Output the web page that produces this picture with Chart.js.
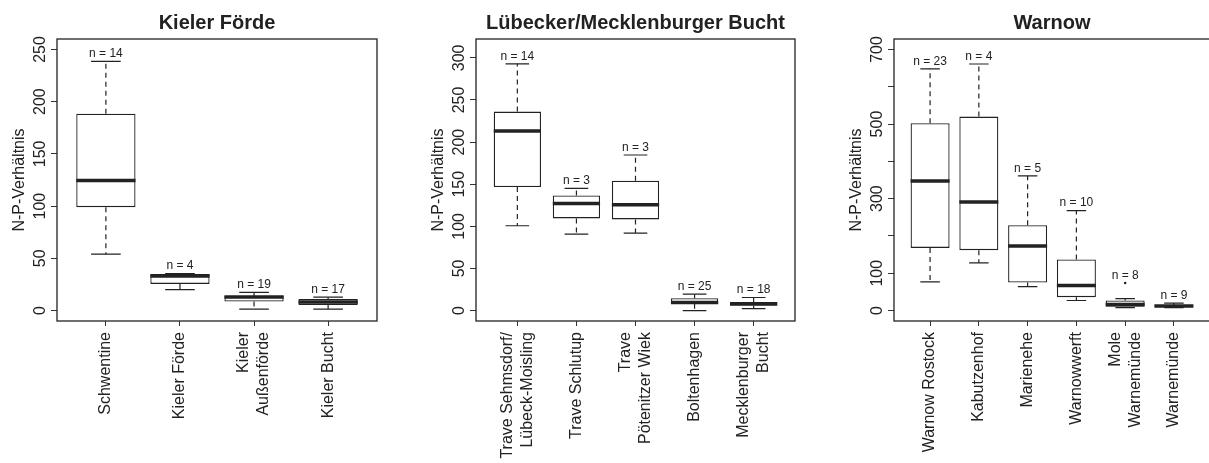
<!DOCTYPE html>
<html>
<head>
<meta charset="utf-8">
<script src="https://cdn.jsdelivr.net/npm/chart.js@4.4.1/dist/chart.umd.min.js"></script>
<style>
  html, body { margin: 0; padding: 0; background: #fff; width: 1209px; height: 463px; overflow: hidden; position: relative; }
  canvas { position: absolute; top: 0; }
</style>
</head>
<body>
<canvas id="kiel" width="387" height="463" style="left:0px"></canvas>
<canvas id="luebeck" width="387" height="463" style="left:419px"></canvas>
<canvas id="warnow" width="387" height="463" style="left:837px"></canvas>
<script>
// Kieler Förde
const kielCats = [['Schwentine'], ['Kieler Förde'], ['Kieler', 'Außenförde'], ['Kieler Bucht']];
const kielN = [14, 4, 19, 17];
const kielLow = [54, 20, 1.3, 1.3];
const kielQ1 = [99, 25.5, 8.6, 5.4];
const kielMed = [124.5, 33, 13, 8.3];
const kielQ3 = [188.5, 35, 14, 11];
const kielHigh = [238.5, 35.5, 17.5, 12.8];
const kielOut = [[], [], [], []];
const kielYTicks = [0, 50, 100, 150, 200, 250];
const kielYLabels = ['0', '50', '100', '150', '200', '250'];

// Lübecker/Mecklenburger Bucht
const luebCats = [['Trave Sehmsdorf/', 'Lübeck-Moisling'], ['Trave Schlutup'], ['Trave', 'Pötenitzer Wiek'], ['Boltenhagen'], ['Mecklenburger', 'Bucht']];
const luebN = [14, 3, 3, 25, 18];
const luebLow = [100.7, 90.8, 92, 0, 2.4];
const luebQ1 = [146.7, 109.4, 108.2, 8, 5.6];
const luebMed = [213.2, 127.2, 125.6, 9.7, 8];
const luebQ3 = [236.2, 136.7, 154.2, 14.7, 10.3];
const luebHigh = [292.9, 145, 184.7, 19.5, 15.5];
const luebOut = [[], [], [], [], []];
const luebYTicks = [0, 50, 100, 150, 200, 250, 300];
const luebYLabels = ['0', '50', '100', '150', '200', '250', '300'];

// Warnow
const warnCats = [['Warnow Rostock'], ['Kabutzenhof'], ['Marienehe'], ['Warnowwerft'], ['Mole', 'Warnemünde'], ['Warnemünde']];
const warnN = [23, 4, 5, 10, 8, 9];
const warnLow = [77, 128, 64, 27, 8, 8];
const warnQ1 = [168, 162, 75, 36, 10, 11];
const warnMed = [347, 291, 173, 67, 16, 12.5];
const warnQ3 = [502, 520, 229, 137, 27, 14];
const warnHigh = [648, 661, 361, 268, 32, 20];
const warnOut = [[], [], [], [], [74], []];
const warnYTicks = [0, 100, 200, 300, 400, 500, 600, 700];
const warnYLabels = ['0', '100', '', '300', '', '500', '', '700'];

Chart.defaults.font.family = '"Liberation Sans", Arial, sans-serif';
Chart.defaults.color = '#222';

const INK = '#222';

function boxPlugin(p) {
    return {
        id: 'boxes',
        afterDraw(chart) {
            const ctx = chart.ctx;
            const xs = chart.scales.x, ys = chart.scales.y, a = chart.chartArea;
            const bars = chart.getDatasetMeta(0).data;
            ctx.save();
            ctx.strokeStyle = INK;
            ctx.fillStyle = INK;
            p.cats.forEach((cat, i) => {
                const cx = xs.getPixelForValue(i + 1);
                const w = bars[i].width;
                const yLow = ys.getPixelForValue(p.low[i]);
                const yHigh = ys.getPixelForValue(p.high[i]);
                // dashed whiskers
                ctx.lineWidth = 1.2;
                ctx.setLineDash([5, 4]);
                ctx.beginPath();
                ctx.moveTo(cx, ys.getPixelForValue(p.q3[i]));
                ctx.lineTo(cx, yHigh);
                ctx.moveTo(cx, ys.getPixelForValue(p.q1[i]));
                ctx.lineTo(cx, yLow);
                ctx.stroke();
                ctx.setLineDash([]);
                // whisker caps
                ctx.beginPath();
                ctx.moveTo(cx - w / 4, yHigh);
                ctx.lineTo(cx + w / 4, yHigh);
                ctx.moveTo(cx - w / 4, yLow);
                ctx.lineTo(cx + w / 4, yLow);
                ctx.stroke();
                // median
                ctx.lineWidth = 3.5;
                ctx.beginPath();
                const ym = ys.getPixelForValue(p.med[i]);
                ctx.moveTo(cx - w / 2, ym);
                ctx.lineTo(cx + w / 2, ym);
                ctx.stroke();
                // n label above the highest mark
                let top = yHigh;
                p.out[i].forEach(v => { top = Math.min(top, ys.getPixelForValue(v)); });
                ctx.font = '12px "Liberation Sans", Arial, sans-serif';
                ctx.textAlign = 'center';
                ctx.textBaseline = 'middle';
                ctx.fillText('n = ' + p.n[i], cx, top - 7.5);
                // category label, rotated
                ctx.save();
                ctx.font = '16px "Liberation Sans", Arial, sans-serif';
                ctx.translate(cx, a.bottom + 11);
                ctx.rotate(-Math.PI / 2);
                ctx.textAlign = 'right';
                ctx.textBaseline = 'middle';
                cat.forEach((line, j) => {
                    ctx.fillText(line, 0, (j - (cat.length - 1) / 2) * 20);
                });
                ctx.restore();
            });
            // plot frame
            ctx.lineWidth = 1.3;
            ctx.strokeRect(a.left, a.top, a.right - a.left, a.bottom - a.top);
            // panel title
            ctx.font = 'bold 20px "Liberation Sans", Arial, sans-serif';
            ctx.textAlign = 'center';
            ctx.textBaseline = 'alphabetic';
            ctx.fillText(p.title, (a.left + a.right) / 2, 29);
            ctx.restore();
        }
    };
}

function makePanel(id, p) {
    const boxes = p.cats.map((c, i) => ({ x: i + 1, y: [p.q1[i], p.q3[i]] }));
    const outliers = [];
    p.out.forEach((vals, i) => vals.forEach(v => outliers.push({ x: i + 1, y: v })));
    return new Chart(document.getElementById(id), {
        type: 'bar',
        data: {
            datasets: [{
                data: boxes,
                backgroundColor: '#fff',
                borderColor: INK,
                borderWidth: 1.3,
                borderSkipped: false,
                barPercentage: 0.8,
                categoryPercentage: 1
            }, {
                type: 'scatter',
                data: outliers,
                pointRadius: 1.3,
                pointBackgroundColor: INK,
                pointBorderWidth: 0
            }]
        },
        options: {
            responsive: false,
            animation: false,
            layout: { padding: { top: 39, right: p.padRight, bottom: 0, left: 0 } },
            plugins: { legend: { display: false }, tooltip: { enabled: false } },
            scales: {
                x: {
                    type: 'linear',
                    min: p.xMin,
                    max: p.xMax,
                    offset: false,
                    afterBuildTicks: s => { s.ticks = p.cats.map((c, i) => ({ value: i + 1 })); },
                    afterFit: s => { s.height = 142; },
                    ticks: { display: false },
                    grid: { display: true, offset: false, drawOnChartArea: false, drawTicks: true, tickLength: 5, color: '#333' },
                    border: { display: false }
                },
                y: {
                    min: p.yMin,
                    max: p.yMax,
                    afterBuildTicks: s => { s.ticks = p.yTicks.map(v => ({ value: v })); },
                    afterFit: s => { s.width = 57; },
                    ticks: {
                        minRotation: 90,
                        maxRotation: 90,
                        crossAlign: 'center',
                        padding: -2.5,
                        color: INK,
                        font: { size: 16 },
                        callback: (v, i) => p.yLabels[i]
                    },
                    grid: { display: true, drawOnChartArea: false, drawTicks: true, tickLength: 6, color: '#333' },
                    border: { display: false },
                    title: { display: true, text: 'N-P-Verhältnis', color: INK, font: { size: 16 }, padding: { top: 10, bottom: 0 } }
                }
            }
        },
        plugins: [boxPlugin(p)]
    });
}

makePanel('kiel', {
    title: 'Kieler Förde', cats: kielCats, n: kielN, low: kielLow, q1: kielQ1, med: kielMed, q3: kielQ3, high: kielHigh, out: kielOut,
    yTicks: kielYTicks, yLabels: kielYLabels, yMin: -10, yMax: 260, xMin: 0.34, xMax: 4.66, padRight: 10
});
makePanel('luebeck', {
    title: 'Lübecker/Mecklenburger Bucht', cats: luebCats, n: luebN, low: luebLow, q1: luebQ1, med: luebMed, q3: luebQ3, high: luebHigh, out: luebOut,
    yTicks: luebYTicks, yLabels: luebYLabels, yMin: -12.4, yMax: 322.4, xMin: 0.3, xMax: 5.7, padRight: 11
});
makePanel('warnow', {
    title: 'Warnow', cats: warnCats, n: warnN, low: warnLow, q1: warnQ1, med: warnMed, q3: warnQ3, high: warnHigh, out: warnOut,
    yTicks: warnYTicks, yLabels: warnYLabels, yMin: -28, yMax: 728, xMin: 0.26, xMax: 6.74, padRight: 14
});
</script>
</body>
</html>
